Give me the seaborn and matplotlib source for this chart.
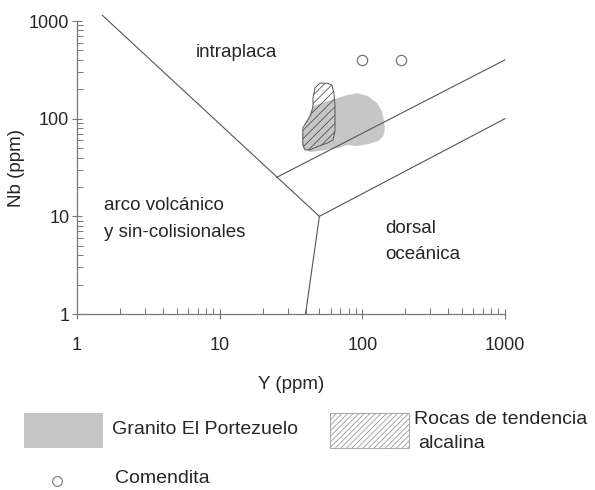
import numpy as np
import pandas as pd
import matplotlib
matplotlib.use("Agg")
import matplotlib.pyplot as plt
import seaborn as sns
from matplotlib.patches import Polygon, Rectangle
from matplotlib.lines import Line2D
from matplotlib.ticker import LogLocator, FixedLocator, NullFormatter

# ---- data ----
# discrimination boundaries (Y, Nb)
bound_wpg_vag_y = [1.5, 50]
bound_wpg_vag_nb = [1150, 10]
bound_wpg_orgup_y = [25, 1000]
bound_wpg_orgup_nb = [25, 400]
bound_org_y = [50, 1000]
bound_org_nb = [10, 100]
bound_vag_org_y = [40, 50]
bound_vag_org_nb = [1, 10]

# Granito El Portezuelo field
granito_y = [45.1, 66.4, 78, 91.7, 109, 127, 137, 142, 144, 140.4, 129.5, 110, 92.2, 78.5, 67.9, 55, 43.2, 38.3, 37.7, 40.3]
granito_nb = [134.5, 162, 174, 182, 171, 144, 119.6, 94, 78, 66.3, 59, 55, 52.4, 53.7, 50, 47.7, 45.5, 49.9, 67.8, 92]

# Rocas de tendencia alcalina field
alcalina_y = [46.5, 45.1, 45.1, 43.6, 40.9, 38.3, 38.3, 38.3, 39.6, 42.9, 48.9, 56.5, 62.2, 64.3, 64.3, 64.3, 63.2, 61.2, 56.5, 50.5]
alcalina_nb = [206, 162, 134.5, 109, 94.2, 80.5, 66.8, 54.1, 47.9, 47.9, 52, 56.2, 60.5, 74.7, 101.7, 137.7, 182, 221, 231, 231]

# Comendita
comendita_y = [99.5, 188]
comendita_nb = [398, 398]

ticks = [1, 10, 100, 1000]
tick_labels = ["1", "10", "100", "1000"]

# ---- plot ----
sns.set_style("white")
plt.rcParams['font.family'] = ['Liberation Sans', 'DejaVu Sans']

fig = plt.figure(figsize=(5.95, 4.9), dpi=100)
ax = fig.add_axes([77/595, 1-314/490, (505-77)/595, (314-21)/490])
ax.set_xscale('log')
ax.set_yscale('log')
ax.set_xlim(1, 1000)
ax.set_ylim(1, 1000)

lc = '#555555'
for xs, ys in [(bound_wpg_vag_y, bound_wpg_vag_nb), (bound_wpg_orgup_y, bound_wpg_orgup_nb),
               (bound_org_y, bound_org_nb), (bound_vag_org_y, bound_vag_org_nb)]:
    ax.plot(xs, ys, color=lc, lw=0.8, clip_on=False, zorder=2.5)

ax.add_patch(Polygon(np.column_stack([granito_y, granito_nb]), closed=True,
                     facecolor='#c6c6c6', edgecolor='none', zorder=2))
plt.rcParams['hatch.linewidth'] = 0.6
plt.rcParams['hatch.color'] = '#555555'
ax.add_patch(Polygon(np.column_stack([alcalina_y, alcalina_nb]), closed=True,
                     facecolor='none', edgecolor='#555555', lw=0.7, hatch='////', zorder=3))

df = pd.DataFrame({'Y': comendita_y, 'Nb': comendita_nb})
sns.scatterplot(data=df, x='Y', y='Nb', ax=ax, marker='o', s=55,
                facecolor='white', edgecolor='#777777', linewidth=0.9, zorder=4)

fs = 13.5
ax.text(13.1, 481, 'intraplaca', fontsize=fs, ha='center', va='center')
ax.text(1.55, 13.05, 'arco volcánico', fontsize=fs, ha='left', va='center')
ax.text(1.55, 6.9, 'y sin-colisionales', fontsize=fs, ha='left', va='center')
ax.text(145, 7.59, 'dorsal', fontsize=fs, ha='left', va='center')
ax.text(145, 4.02, 'oceánica', fontsize=fs, ha='left', va='center')

for s in ['top', 'right']:
    ax.spines[s].set_visible(False)
for s in ['left', 'bottom']:
    ax.spines[s].set_color('#777777')
    ax.spines[s].set_linewidth(0.9)

ax.xaxis.set_major_locator(FixedLocator(ticks))
ax.yaxis.set_major_locator(FixedLocator(ticks))
ax.set_xticklabels(tick_labels)
ax.set_yticklabels(tick_labels)
ax.xaxis.set_minor_locator(LogLocator(base=10, subs=np.arange(2, 10)))
ax.yaxis.set_minor_locator(LogLocator(base=10, subs=np.arange(2, 10)))
ax.xaxis.set_minor_formatter(NullFormatter())
ax.yaxis.set_minor_formatter(NullFormatter())
ax.tick_params(axis='both', which='major', direction='inout', length=7, width=0.8,
               color='#777777', labelsize=13, left=True, bottom=True)
ax.tick_params(axis='x', which='major', pad=13)
ax.tick_params(axis='y', which='major', pad=2)
ax.tick_params(axis='both', which='minor', direction='in', length=4, width=0.7,
               color='#777777', left=True, bottom=True)

ax.set_xlabel('Y (ppm)', fontsize=13.5, labelpad=16)
ax.set_ylabel('Nb (ppm)', fontsize=13.5, labelpad=3)

# ---- legend ----
def fy(py):
    return 1 - py/490
def fx(px):
    return px/595

lfs = 14
fig.add_artist(Rectangle((fx(24), fy(448)), fx(103)-fx(24), fy(413)-fy(448),
                         facecolor='#c6c6c6', edgecolor='none', transform=fig.transFigure))
fig.text(fx(112), fy(429), 'Granito El Portezuelo', fontsize=lfs, ha='left', va='center')
fig.add_artist(Rectangle((fx(330), fy(448)), fx(409)-fx(330), fy(413)-fy(448),
                         facecolor='white', edgecolor='#999999', lw=0.6, hatch='//////',
                         transform=fig.transFigure))
fig.text(fx(414), fy(419), 'Rocas de tendencia', fontsize=lfs, ha='left', va='center')
fig.text(fx(418), fy(443), 'alcalina', fontsize=lfs, ha='left', va='center')
fig.add_artist(Line2D([fx(57)], [fy(481)], marker='o', markersize=7, markerfacecolor='white',
                      markeredgecolor='#777777', markeredgewidth=0.8, transform=fig.transFigure))
fig.text(fx(115), fy(478), 'Comendita', fontsize=lfs, ha='left', va='center')

fig.savefig('out.png', dpi=100)
